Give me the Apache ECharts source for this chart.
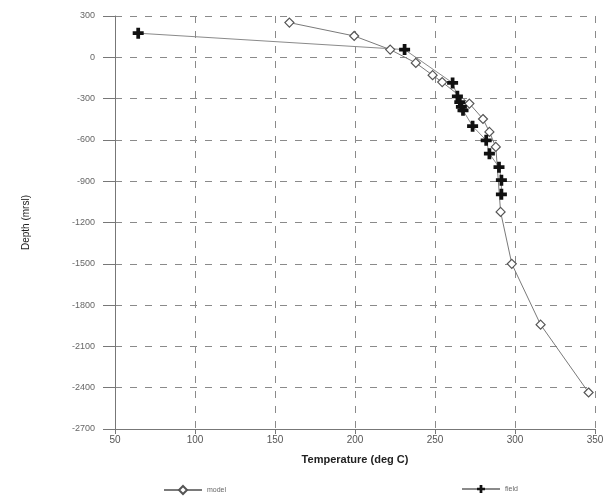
<!DOCTYPE html>
<html>
<head>
<meta charset="utf-8">
<script src="https://cdn.jsdelivr.net/npm/echarts@6/dist/echarts.min.js"></script>
<style>
	html, body { margin: 0; padding: 0; background: #fff; }
	#echartsDiv { width: 611px; height: 499px; }
</style>
</head>
<body>
<div id="echartsDiv"></div>
<script>
// model profile
var modelTemp  = [159, 199.5, 222, 238, 248.5, 254.5, 271.5, 280, 284, 288, 291, 298, 316, 346];
var modelDepth = [252, 155, 56, -41, -130, -180, -336, -448, -542, -651, -1123, -1500, -1942, -2435];
// field measurements
var fieldTemp  = [64.5, 231, 261, 264, 265.5, 266.5, 267.5, 273.5, 282, 284, 290, 291.5, 291.5];
var fieldDepth = [175, 56, -186, -283, -325, -360, -385, -500, -603, -700, -798, -893, -995];
// axis ticks
var xTicks = [50, 100, 150, 200, 250, 300, 350];
var yTicks = [300, 0, -300, -600, -900, -1200, -1500, -1800, -2100, -2400, -2700];

/**
 * 组合成 [温度, 深度] 数据对
 */
function toPairs(xs, ys) {
	var list = [];
	for (var i = 0; i < xs.length; i++) {
		list.push([xs[i], ys[i]]);
	}
	return list;
}

/**
 * 生成图表
 */
function createEcharts() {
	var myChart = echarts.init(document.getElementById('echartsDiv'));
	var crossPath = 'path://M3.3,0H6.7V3.3H10V6.7H6.7V10H3.3V6.7H0V3.3H3.3Z';
	var gridLine = { show: true, lineStyle: { color: '#8a8a8a', type: [7, 8], width: 1 } };
	var legendText = { fontSize: 7, color: '#666', fontFamily: 'Liberation Sans' };

	var option = {
		animation: false,
		backgroundColor: '#fff',
		grid: { left: 115, right: 16, top: 16, bottom: 70 },
		legend: [{
			data: ['model'],
			left: 158, top: 480,
			itemWidth: 38, itemHeight: 10,
			textStyle: legendText
		}, {
			data: ['field'],
			left: 456, top: 480,
			itemWidth: 38, itemHeight: 10,
			textStyle: legendText
		}],
		xAxis: {
			type: 'value',
			min: xTicks[0], max: xTicks[xTicks.length - 1], interval: 50,
			name: 'Temperature (deg C)',
			nameLocation: 'middle', nameGap: 25,
			nameTextStyle: { fontSize: 11, fontWeight: 'bold', color: '#222', fontFamily: 'Liberation Sans' },
			axisLine: { onZero: false, lineStyle: { color: '#777' } },
			axisTick: { length: 5, lineStyle: { color: '#777' } },
			axisLabel: { fontSize: 10, color: '#555', margin: 6, fontFamily: 'Liberation Sans' },
			splitLine: gridLine
		},
		yAxis: {
			type: 'value',
			min: yTicks[yTicks.length - 1], max: yTicks[0], interval: 300,
			name: 'Depth (mrsl)',
			nameLocation: 'middle', nameGap: 84, nameRotate: 90,
			nameTextStyle: { fontSize: 10, color: '#222', fontFamily: 'Liberation Sans' },
			axisLine: { show: true, onZero: false, lineStyle: { color: '#777' } },
			axisTick: { show: true, length: 12, lineStyle: { color: '#777' } },
			axisLabel: {
				fontSize: 9, color: '#666', margin: 20, fontFamily: 'Liberation Sans',
				formatter: function (val) { return String(val); }
			},
			splitLine: gridLine
		},
		series: [{
			name: 'model',
			type: 'line',
			data: toPairs(modelTemp, modelDepth),
			symbol: 'diamond',
			symbolSize: 9,
			showAllSymbol: true,
			lineStyle: { color: '#7a7a7a', width: 1 },
			itemStyle: { color: '#fff', borderColor: '#555', borderWidth: 1.2 }
		}, {
			name: 'field',
			type: 'line',
			data: toPairs(fieldTemp, fieldDepth),
			symbol: crossPath,
			symbolSize: 11,
			showAllSymbol: true,
			lineStyle: { color: '#8a8a8a', width: 1 },
			itemStyle: { color: '#111' }
		}]
	};

	myChart.setOption(option);
}

createEcharts();
</script>
</body>
</html>
